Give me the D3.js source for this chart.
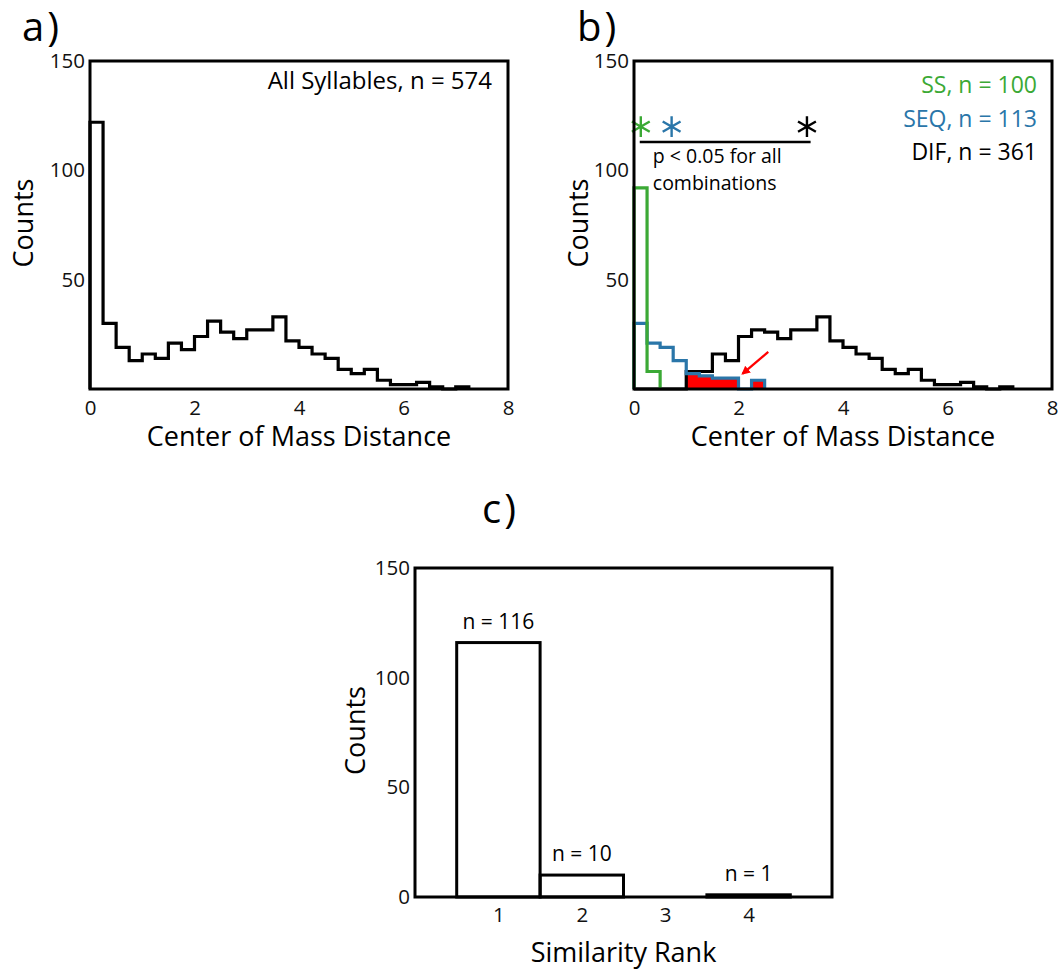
<!DOCTYPE html>
<html>
<head>
<meta charset="utf-8">
<script src="https://cdn.jsdelivr.net/npm/d3@7"></script>
<style>
  body { margin: 0; background: #fff; }
  svg { display: block; font-family: "Open Sans", "Noto Sans", sans-serif; }
</style>
</head>
<body>
<div id="chart"></div>
<script>
// histogram bins are 0.25 wide, starting at 0
const binWidth = 0.25;
const distTicks = [0, 2, 4, 6, 8];
const countTicks = [50, 100, 150];

// a) all syllables
const allCounts = [122, 30, 19, 13, 16, 14, 21, 18, 24, 31, 26, 23, 27, 27, 33, 22, 19, 16, 14, 9, 7, 9, 4, 2, 2, 3, 1, 0, 1];

// b) split by group
const ssCounts = [92, 8];
const seqCounts = [30, 21, 19, 13, 7, 6, 5, 5, 0, 4];
const difCounts = [0, 0, 0, 0, 8, 8, 16, 13, 24, 27, 26, 23, 27, 27, 33, 22, 19, 16, 14, 9, 7, 9, 4, 2, 2, 3, 1, 0, 1];
const overlapFrom = 1.0; // SEQ bins from here on are shaded red
const groupNames = ["SS, n = 100", "SEQ, n = 113", "DIF, n = 361"];
const groupMedians = [0.13, 0.72, 3.31];
const starHeight = 120;
const sigBar = [0.11, 3.38, 113];
const sigText = ["p < 0.05 for all", "combinations"];
const arrowFrom = [2.57, 17], arrowTo = [2.08, 7];

// c) similarity rank
const ranks = [1, 2, 3, 4];
const rankCounts = [116, 10, 0, 1];
const rankTicks = [0, 50, 100, 150];

const green = "#3ba935", blue = "#2a76a9", red = "#ff0000";
const groupColors = [green, blue, "#000"];

const width = 1058, height = 970;
const svg = d3.select("#chart").append("svg")
  .attr("width", width).attr("height", height)
  .attr("viewBox", [0, 0, width, height]);

svg.append("rect").attr("width", width).attr("height", height).attr("fill", "#fff");

function stepPoints(counts) {
  const pts = [[0, 0]];
  counts.forEach((c, i) => {
    pts.push([i * binWidth, c]);
    pts.push([(i + 1) * binWidth, c]);
  });
  pts.push([counts.length * binWidth, 0]);
  return pts;
}

function addAxes(g, x, y, o) {
  g.append("g")
    .attr("transform", `translate(0,${o.h})`)
    .call(d3.axisBottom(x).tickValues(o.xTicks).tickSize(0).tickPadding(o.xPad).tickFormat(d3.format("d")))
    .call(a => a.select(".domain").remove())
    .attr("font-size", 20.5).attr("font-family", null)
    .selectAll("text").attr("fill", "#111");
  g.append("g")
    .call(d3.axisLeft(y).tickValues(o.yTicks).tickSize(0).tickPadding(5))
    .call(a => a.select(".domain").remove())
    .attr("font-size", 20.5).attr("font-family", null)
    .selectAll("text").attr("fill", "#111");

  g.append("text")
    .attr("x", o.w / 2).attr("y", o.h + o.xTitleDy)
    .attr("text-anchor", "middle").attr("font-size", 27)
    .text(o.xTitle);
  g.append("text")
    .attr("transform", `translate(${-o.yTitleX},${o.h / 2 - 2}) rotate(-90)`)
    .attr("text-anchor", "middle").attr("font-size", 27)
    .text("Counts");
}

function addFrame(g, w, h) {
  g.append("rect").attr("width", w).attr("height", h)
    .attr("fill", "none").attr("stroke", "#000").attr("stroke-width", 3);
}

function panelLabel(txt, x, y) {
  svg.append("text").attr("x", x).attr("y", y)
    .attr("font-size", 40).attr("letter-spacing", 3).text(txt);
}

// ---------- panel a ----------
{
  const w = 418, h = 328;
  const g = svg.append("g").attr("transform", "translate(90,61)");
  const x = d3.scaleLinear().domain([0, 8]).range([0, w]);
  const y = d3.scaleLinear().domain([0, 150]).range([h, 0]);
  const line = d3.line().x(d => x(d[0])).y(d => y(d[1]));

  g.append("path").attr("d", line(stepPoints(allCounts)))
    .attr("fill", "none").attr("stroke", "#000").attr("stroke-width", 3.2)
    .attr("stroke-linejoin", "miter");

  g.append("text").attr("x", w - 16).attr("y", 28)
    .attr("text-anchor", "end").attr("font-size", 24)
    .text("All Syllables, n = 574");

  addAxes(g, x, y, { w, h, xTicks: distTicks, yTicks: countTicks, xPad: 11,
    xTitle: "Center of Mass Distance", xTitleDy: 57, yTitleX: 57 });
  addFrame(g, w, h);
  panelLabel("a)", 22, 41);
}

// ---------- panel b ----------
{
  const w = 418, h = 328;
  const g = svg.append("g").attr("transform", "translate(634,61)");
  const x = d3.scaleLinear().domain([0, 8]).range([0, w]);
  const y = d3.scaleLinear().domain([0, 150]).range([h, 0]);
  const line = d3.line().x(d => x(d[0])).y(d => y(d[1]));

  // red shading under the SEQ bins that overlap the DIF range
  const shaded = seqCounts.map((c, i) => ({ x0: i * binWidth, c }))
    .filter(d => d.x0 >= overlapFrom && d.c > 0);
  g.append("path")
    .attr("d", shaded.map(d =>
      `M${x(d.x0)},${y(d.c)}H${x(d.x0 + binWidth)}V${y(0)}H${x(d.x0)}Z`).join(""))
    .attr("fill", red)
    .attr("shape-rendering", "crispEdges");

  [[difCounts, "#000"], [seqCounts, blue], [ssCounts, green]].forEach(([counts, col]) => {
    g.append("path").attr("d", line(stepPoints(counts)))
      .attr("fill", "none").attr("stroke", col).attr("stroke-width", 3.2)
      .attr("stroke-linejoin", "miter");
  });

  // medians + significance bar
  const star = d3.symbol(d3.symbolAsterisk || d3.symbolCross).size(300);
  g.append("g").selectAll("path")
    .data(groupMedians)
    .join("path")
    .attr("transform", d => `translate(${x(d)},${y(starHeight)})`)
    .attr("d", star)
    .attr("fill", "none")
    .attr("stroke", (d, i) => groupColors[i])
    .attr("stroke-width", 2.4);

  g.append("line")
    .attr("x1", x(sigBar[0])).attr("x2", x(sigBar[1]))
    .attr("y1", y(sigBar[2])).attr("y2", y(sigBar[2]))
    .attr("stroke", "#000").attr("stroke-width", 2.5);

  g.append("g").selectAll("text")
    .data(sigText)
    .join("text")
    .attr("x", x(0.36)).attr("y", (d, i) => y(sigBar[2]) + 21 + i * 27)
    .attr("font-size", 19.5)
    .text(d => d);

  g.append("g").selectAll("text")
    .data(groupNames)
    .join("text")
    .attr("x", w - 15).attr("y", (d, i) => 32 + i * 33.5)
    .attr("text-anchor", "end").attr("font-size", 23)
    .attr("fill", (d, i) => groupColors[i])
    .text(d => d);

  // arrow
  svg.append("defs").append("marker")
    .attr("id", "arrowhead").attr("viewBox", "0 0 10 10")
    .attr("refX", 8).attr("refY", 5)
    .attr("markerWidth", 4).attr("markerHeight", 4)
    .attr("markerUnits", "strokeWidth")
    .attr("orient", "auto")
    .append("path").attr("d", "M0,0L10,5L0,10Z").attr("fill", red);
  g.append("line")
    .attr("x1", x(arrowFrom[0])).attr("y1", y(arrowFrom[1]))
    .attr("x2", x(arrowTo[0])).attr("y2", y(arrowTo[1]))
    .attr("stroke", red).attr("stroke-width", 2.2)
    .attr("marker-end", "url(#arrowhead)");

  addAxes(g, x, y, { w, h, xTicks: distTicks, yTicks: countTicks, xPad: 11,
    xTitle: "Center of Mass Distance", xTitleDy: 57, yTitleX: 46 });
  addFrame(g, w, h);
  panelLabel("b)", 577, 41);
}

// ---------- panel c ----------
{
  const w = 417, h = 329;
  const g = svg.append("g").attr("transform", "translate(415,568)");
  const x = d3.scaleLinear().domain([0, 5]).range([0, w]);
  const y = d3.scaleLinear().domain([0, 150]).range([h, 0]);

  const bars = ranks.map((r, i) => ({ r, c: rankCounts[i] })).filter(d => d.c > 0);

  g.append("g").selectAll("rect")
    .data(bars)
    .join("rect")
    .attr("x", d => x(d.r - 0.5)).attr("width", x(1) - x(0))
    .attr("y", d => y(d.c)).attr("height", d => y(0) - y(d.c))
    .attr("fill", "none").attr("stroke", "#000").attr("stroke-width", 3);

  g.append("g").selectAll("text")
    .data(bars)
    .join("text")
    .attr("x", d => x(d.r)).attr("y", d => y(d.c) - 14)
    .attr("text-anchor", "middle").attr("font-size", 21)
    .text(d => `n = ${d.c}`);

  addAxes(g, x, y, { w, h, xTicks: ranks, yTicks: rankTicks, xPad: 10,
    xTitle: "Similarity Rank", xTitleDy: 65, yTitleX: 50 });
  addFrame(g, w, h);
  panelLabel("c)", 482, 523);
}
</script>
</body>
</html>
